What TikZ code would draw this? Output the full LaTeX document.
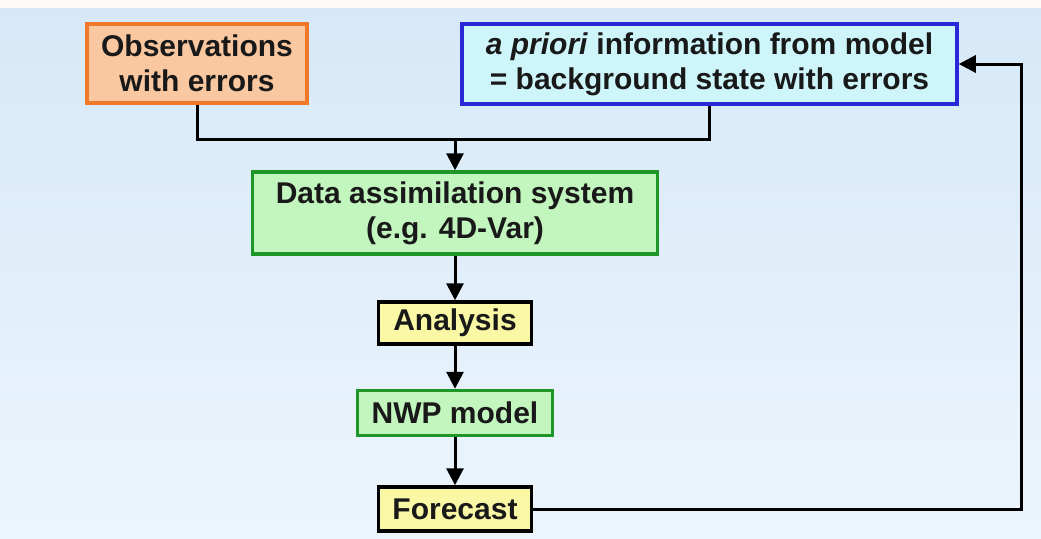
\documentclass[tikz,border=0pt]{standalone}
\usepackage{fontspec}
\setmainfont{Liberation Sans}
\usetikzlibrary{arrows.meta}
\definecolor{bgtop}{RGB}{214,232,248}
\definecolor{bgbot}{RGB}{236,245,252}
\definecolor{obsfill}{RGB}{249,200,160}
\definecolor{obsdraw}{RGB}{240,120,40}
\definecolor{aprfill}{RGB}{205,245,250}
\definecolor{aprdraw}{RGB}{40,40,215}
\definecolor{grnfill}{RGB}{195,245,190}
\definecolor{grndraw}{RGB}{30,150,40}
\definecolor{ylwfill}{RGB}{250,248,165}
\tikzset{
  box/.style={draw, line width=3.5pt, align=center, inner sep=0pt,
    font=\fontsize{30}{35}\selectfont\bfseries, text=black!90},
  obsbox/.style={box, draw=obsdraw, fill=obsfill},
  aprbox/.style={box, draw=aprdraw, fill=aprfill},
  grnbox/.style={box, draw=grndraw, fill=grnfill},
  ylwbox/.style={box, draw=black, fill=ylwfill},
  conn/.style={line width=3pt, draw=black},
  arr/.style={conn, -{Triangle[length=17pt,width=17pt]}}
}
\begin{document}
\begin{tikzpicture}[x=1pt,y=-1pt]
\useasboundingbox (0,0) rectangle (1041,538);
\shade[top color=bgtop, bottom color=bgbot] (0,0) rectangle (1041,538);
\fill[white!92!pink] (0,0) rectangle (1041,8);
\node[obsbox, minimum width=220pt, minimum height=79pt] (obs) at (197,63.5) {Observations\\with errors};
\node[aprbox, minimum width=495pt, minimum height=80pt] (apr) at (709.5,64) {\textit{a priori} information from model\\= background state with errors};
\node[grnbox, minimum width=405pt, minimum height=82pt] (da) at (455,213) {Data assimilation system\\(e.g. 4D-Var)};
\node[ylwbox, minimum width=153pt, minimum height=42pt] (ana) at (455,323) {Analysis};
\node[grnbox, minimum width=195pt, minimum height=45pt] (nwp) at (455,413) {NWP model};
\node[ylwbox, minimum width=153pt, minimum height=44pt] (fc) at (455,509) {Forecast};
\coordinate (merge) at (455,139);
\coordinate (fbr) at (1021,509);
\draw[conn] (obs.south) |- (merge) -| (apr.south);
\draw[arr] (merge) -- (da.north);
\draw[arr] (da.south) -- (ana.north);
\draw[arr] (ana.south) -- (nwp.north);
\draw[arr] (nwp.south) -- (fc.north);
\draw[arr] (fc.east) -- (fbr) |- (apr.east);
\end{tikzpicture}
\end{document}
